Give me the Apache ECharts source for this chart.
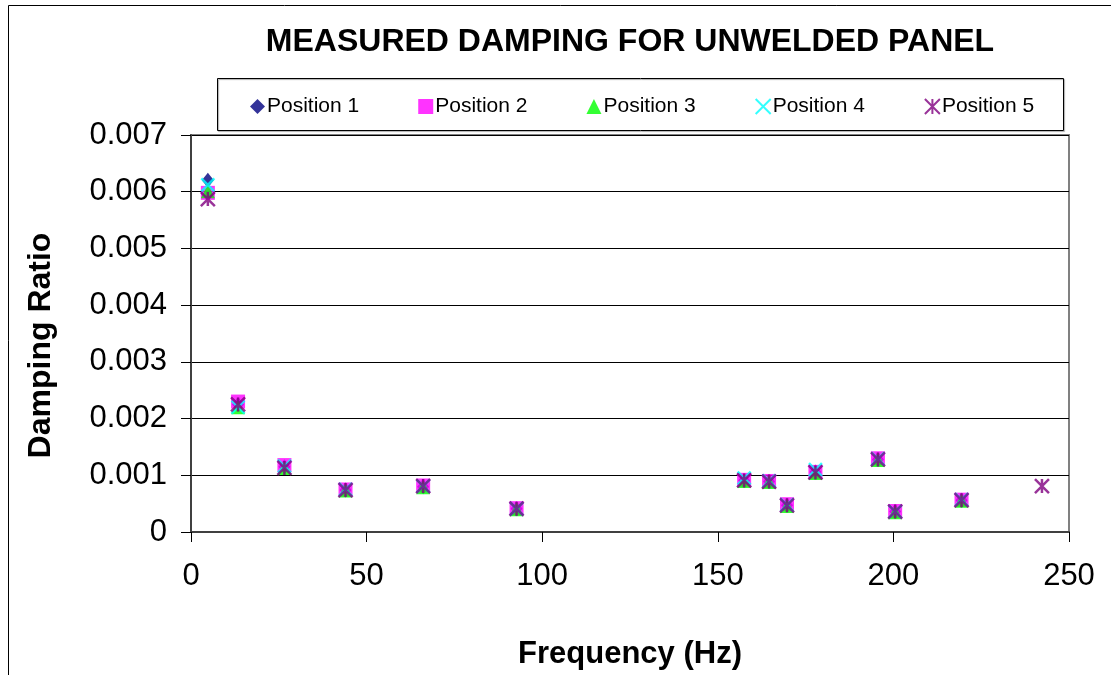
<!DOCTYPE html>
<html>
<head>
<meta charset="utf-8">
<script src="https://cdn.jsdelivr.net/npm/echarts@6/dist/echarts.min.js"></script>
<style>
  html, body { margin: 0; padding: 0; background: #fff; }
  #chart { width: 1111px; height: 675px; }
</style>
</head>
<body>
<div id="chart"></div>
<script>
// data
var freq = [4.8, 13.4, 26.6, 44.0, 66.1, 92.7, 157.5, 164.6, 169.7, 177.8, 195.6, 200.5, 219.4, 242.3];
var pos1 = [0.0062, 0.00225, 0.00115, 0.00074, 0.0008, 0.00041, 0.00091, 0.00089, 0.00047, 0.00106, 0.00128, 0.00036, 0.00056, null];
var pos2 = [0.00598, 0.0023, 0.00118, 0.00075, 0.00082, 0.00042, 0.00092, 0.0009, 0.00049, 0.00106, 0.0013, 0.00037, 0.00057, null];
var pos3 = [0.00601, 0.0022, 0.00113, 0.00073, 0.00079, 0.0004, 0.0009, 0.00088, 0.00046, 0.00104, 0.00127, 0.00035, 0.00055, null];
var pos4 = [0.00612, 0.0022, 0.00116, 0.00075, 0.00081, 0.00041, 0.00095, 0.0009, 0.00048, 0.0011, 0.00129, 0.00036, 0.00057, null];
var pos5 = [0.00587, 0.00225, 0.00113, 0.00074, 0.00081, 0.00041, 0.00091, 0.00089, 0.00047, 0.00105, 0.00128, 0.00036, 0.00056, 0.00081];
var names = ['Position 1', 'Position 2', 'Position 3', 'Position 4', 'Position 5'];

function pts(vals) {
  var out = [];
  freq.forEach(function (f, i) {
    if (vals[i] != null) out.push([f, vals[i]]);
  });
  return out;
}

var font = '"Liberation Sans", Arial, sans-serif';
var myChart = echarts.init(document.getElementById('chart'));

option = {
  backgroundColor: '#fff',
  animation: false,
  title: {
    text: 'MEASURED DAMPING FOR UNWELDED PANEL',
    left: 625,
    top: 21,
    textAlign: 'center',
    textStyle: { fontFamily: font, fontSize: 32, fontWeight: 'bold', color: '#000' }
  },
  legend: {
    data: names,
    left: 245,
    top: 91,
    itemGap: 59,
    itemWidth: 15,
    itemHeight: 15,
    textStyle: { fontFamily: font, fontSize: 21, color: '#000', padding: [0, 0, 0, -3] }
  },
  graphic: [
    { type: 'rect', shape: { x: 8.5, y: 5.5, width: 1120, height: 700 },
      style: { fill: 'none', stroke: '#000', lineWidth: 1 }, silent: true, z: -1 },
    { type: 'rect', shape: { x: 217.5, y: 78.5, width: 846, height: 52 },
      style: { fill: 'none', stroke: '#000', lineWidth: 1, shadowColor: 'rgba(0,0,0,0.35)', shadowOffsetX: 1, shadowOffsetY: 1, shadowBlur: 1 }, silent: true }
  ],
  grid: {
    left: 191, right: 42, top: 135, bottom: 142,
    show: true, borderColor: '#808080', borderWidth: 2
  },
  xAxis: {
    type: 'value',
    min: 0, max: 250, interval: 50,
    name: 'Frequency (Hz)',
    nameLocation: 'middle',
    nameGap: 107,
    nameTextStyle: { fontFamily: font, fontSize: 31, fontWeight: 'bold', color: '#000' },
    axisLine: { show: true, lineStyle: { color: '#404040', width: 2 } },
    axisTick: { show: true, inside: false, length: 10, lineStyle: { color: '#000', width: 1 } },
    axisLabel: { fontFamily: font, fontSize: 31, color: '#000', margin: 29 },
    splitLine: { show: false }
  },
  yAxis: {
    type: 'value',
    min: 0, max: 0.007, interval: 0.001,
    name: 'Damping Ratio',
    nameLocation: 'middle',
    nameGap: 134,
    nameRotate: 90,
    nameTextStyle: { fontFamily: font, fontSize: 32, fontWeight: 'bold', color: '#000', padding: [0, 24, 0, 0] },
    axisLine: { show: true, lineStyle: { color: '#404040', width: 2 } },
    axisTick: { show: true, inside: false, length: 10, lineStyle: { color: '#000', width: 1 } },
    axisLabel: {
      fontFamily: font, fontSize: 31, color: '#000', margin: 24,
      formatter: function (v) { return v === 0 ? '0' : v.toFixed(3); }
    },
    splitLine: { show: true, lineStyle: { color: '#000', width: 1 } }
  },
  series: [
    { name: names[0], type: 'scatter', data: pts(pos1), symbol: 'diamond', symbolSize: [12, 15],
      itemStyle: { color: '#000080' } },
    { name: names[1], type: 'scatter', data: pts(pos2), symbol: 'rect', symbolSize: 14,
      itemStyle: { color: '#ff00ff' } },
    { name: names[2], type: 'scatter', data: pts(pos3), symbol: 'triangle', symbolSize: 14,
      itemStyle: { color: '#00ff00' } },
    { name: names[3], type: 'scatter', data: pts(pos4), symbol: 'path://M0,0L10,10M10,0L0,10', symbolSize: 13,
      itemStyle: { color: 'rgba(0,0,0,0)', borderColor: '#00ffff', borderWidth: 2.5 } },
    { name: names[4], type: 'scatter', data: pts(pos5), symbol: 'path://M0,0L10,10M10,0L0,10M5,0L5,10', symbolSize: 14,
      itemStyle: { color: 'rgba(0,0,0,0)', borderColor: '#800080', borderWidth: 2.5 } }
  ]
};

myChart.setOption(option);
</script>
</body>
</html>
